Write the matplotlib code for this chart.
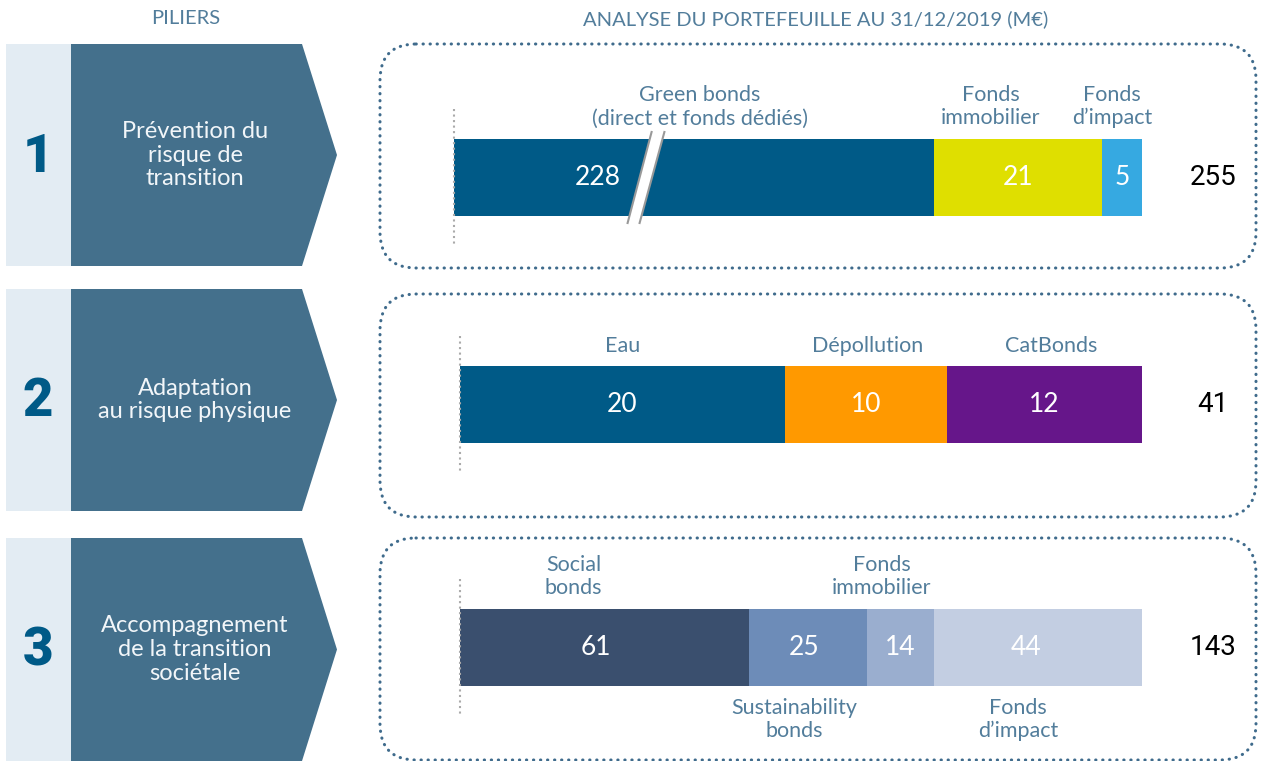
import matplotlib.pyplot as plt
from matplotlib.patches import Polygon, Rectangle, FancyBboxPatch

# --- données (M€) ---
piliers = ["Prévention du\nrisque de\ntransition",
           "Adaptation\nau risque physique",
           "Accompagnement\nde la transition\nsociétale"]
numeros = ["1", "2", "3"]
totaux = [255, 41, 143]

cat1 = ["Green bonds\n(direct et fonds dédiés)", "Fonds\nimmobilier", "Fonds\nd’impact"]
val1 = [228, 21, 5]
col1 = ["#005a87", "#dfdf00", "#36a9e1"]

cat2 = ["Eau", "Dépollution", "CatBonds"]
val2 = [20, 10, 12]
col2 = ["#005a87", "#ff9900", "#66168a"]

cat3 = ["Social\nbonds", "Sustainability\nbonds", "Fonds\nimmobilier", "Fonds\nd’impact"]
val3 = [61, 25, 14, 44]
col3 = ["#3a4f6e", "#6d8cb8", "#9aaecf", "#c3cee2"]
cote3 = ["haut", "bas", "haut", "bas"]

# --- mise en page (pixels) ---
W, H = 1263, 761
BLEU_TXT = "#527d9b"
plt.rcParams["font.family"] = ["Lato", "DejaVu Sans"]

# décalages horizontaux des étiquettes (px)
dec_cat = [[6, -27, -10], [0, 2, 7], [-31, -14, -19, -20]]
dec_val = [[0, 0, 0], [0, 0, 0], [-9, -4, 0, -12]]

fig = plt.figure(figsize=(W / 100, H / 100), dpi=100)
bg = fig.add_axes([0, 0, 1, 1])
bg.set_xlim(0, W)
bg.set_ylim(H, 0)
bg.axis("off")

bg.text(186, 19, "PILIERS", ha="center", va="center", fontsize=14.5, color=BLEU_TXT)
bg.text(816, 19, "ANALYSE DU PORTEFEUILLE AU 31/12/2019 (M€)", ha="center", va="center",
        fontsize=14.5, color=BLEU_TXT)

piliers_y = [(44, 266), (289, 511), (538, 761)]
cadres_y = [(44, 268), (294, 517), (538, 760)]
barres_cy = [177.5, 404.5, 647.5]
barres_x0 = [454, 460, 460]
barres_x1 = 1142

for i in range(3):
    y0, y1 = piliers_y[i]
    ym = (y0 + y1) / 2
    bg.add_patch(Rectangle((6, y0), 65, y1 - y0, color="#e3ecf3", lw=0))
    bg.add_patch(Polygon([(71, y0), (302, y0), (337, ym), (302, y1), (71, y1)],
                         closed=True, color="#44708c", lw=0))
    bg.text(38, ym + 2, numeros[i], ha="center", va="center", fontsize=38,
            fontweight="black", color="#005a87", family=["Roboto", "DejaVu Sans"])
    bg.text(195, ym, piliers[i], ha="center", va="center", fontsize=17,
            color="#f2f6f9", linespacing=1.15)

    c0, c1 = cadres_y[i]
    bg.add_patch(FancyBboxPatch((380, c0), 876, c1 - c0,
                                boxstyle="round,pad=0,rounding_size=36",
                                fill=False, ec="#3f6b8c", lw=2.2,
                                linestyle=(0, (0.1, 2.2)), capstyle="round"))
    bg.text(1213, barres_cy[i], str(totaux[i]), ha="center", va="center",
            fontsize=20, color="black", family=["Roboto", "DejaVu Sans"])


def axe_barre(i, etendue):
    x0 = barres_x0[i]
    cy = barres_cy[i]
    ax = fig.add_axes([x0 / W, 1 - (cy + 110) / H, (barres_x1 - x0) / W, 220 / H])
    ax.set_xlim(0, etendue)
    ax.set_ylim(110, -110)
    ax.axis("off")
    ax.plot([0, 0], [-69, 69], color="#aaaaaa", lw=1.5, ls=":", clip_on=False)
    return ax, etendue / (barres_x1 - x0)


def segments(ax, affiche, couleurs):
    gauche = 0
    centres = []
    for a, c in zip(affiche, couleurs):
        ax.barh(0, a, left=gauche, height=77, color=c, lw=0)
        centres.append(gauche + a / 2)
        gauche += a
    return centres


def etiquettes(ax, u, cv, cc, valeurs, cats, dv, dc, cotes):
    for k in range(len(valeurs)):
        ax.text(cv[k] + dv[k] * u, 0, str(valeurs[k]), ha="center", va="center",
                fontsize=19, color="white")
        if cotes[k] == "haut":
            ax.text(cc[k] + dc[k] * u, -49, cats[k], ha="center", va="bottom",
                    fontsize=15.5, color=BLEU_TXT, linespacing=1.2)
        else:
            ax.text(cc[k] + dc[k] * u, 50, cats[k], ha="center", va="top",
                    fontsize=15.5, color=BLEU_TXT, linespacing=1.2)


# ligne 1 : barre Green bonds coupée, petites barres à l'échelle
etendue1 = 86
affiche1 = [etendue1 - sum(val1[1:])] + val1[1:]
ax1, u1 = axe_barre(0, etendue1)
c1 = segments(ax1, affiche1, col1)
cx = 0.4 * affiche1[0]
ax1.add_patch(Polygon([(cx - 2.3, 45.5), (cx + 0.7, -45.5), (cx + 2.3, -45.5), (cx - 0.8, 45.5)],
                      closed=True, color="white", lw=0, zorder=3))
ax1.plot([cx - 2.3, cx + 0.7], [45.5, -45.5], color="#999999", lw=1.5, zorder=4)
ax1.plot([cx - 0.8, cx + 2.3], [45.5, -45.5], color="#999999", lw=1.5, zorder=4)
cv1 = [0.3 * affiche1[0]] + c1[1:]
etiquettes(ax1, u1, cv1, c1, val1, cat1, dec_val[0], dec_cat[0], ["haut"] * 3)

# ligne 2
ax2, u2 = axe_barre(1, sum(val2))
c2 = segments(ax2, val2, col2)
etiquettes(ax2, u2, c2, c2, val2, cat2, dec_val[1], dec_cat[1], ["haut"] * 3)

# ligne 3
ax3, u3 = axe_barre(2, sum(val3))
c3 = segments(ax3, val3, col3)
etiquettes(ax3, u3, c3, c3, val3, cat3, dec_val[2], dec_cat[2], cote3)

fig.savefig("out.png", dpi=100)
